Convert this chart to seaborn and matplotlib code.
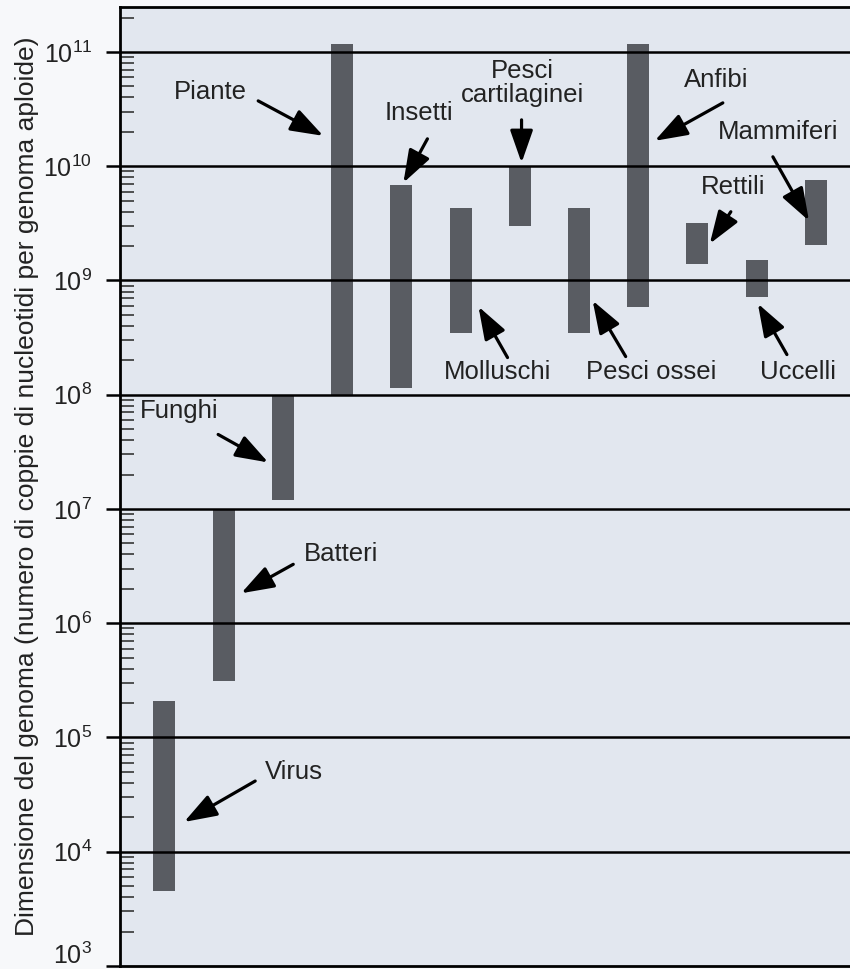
import numpy as np
import pandas as pd
import matplotlib
matplotlib.use("Agg")
import matplotlib.pyplot as plt
import matplotlib.transforms as mtransforms
import seaborn as sns
from matplotlib.ticker import LogLocator, FixedLocator, NullFormatter

# ---- data ----
categories = ["Virus", "Batteri", "Funghi", "Piante", "Insetti", "Molluschi",
              "Pesci cartilaginei", "Pesci ossei", "Anfibi", "Rettili",
              "Uccelli", "Mammiferi"]
genome_min = [4.5e3, 3.1e5, 1.2e7, 1.0e8, 1.15e8, 3.5e8, 3.0e9, 3.5e8,
              5.8e8, 1.4e9, 7.2e8, 2.05e9]
genome_max = [2.1e5, 1.0e7, 1.0e8, 1.17e11, 6.9e9, 4.3e9, 1.0e10, 4.3e9,
              1.17e11, 3.2e9, 1.5e9, 7.5e9]
decade_ticks = [1e3, 1e4, 1e5, 1e6, 1e7, 1e8, 1e9, 1e10, 1e11]
tick_labels = [r"$10^{3}$", r"$10^{4}$", r"$10^{5}$", r"$10^{6}$", r"$10^{7}$",
               r"$10^{8}$", r"$10^{9}$", r"$10^{10}$", r"$10^{11}$"]
ylabel = "Dimensione del genoma (numero di coppie di nucleotidi per genoma aploide)"

df = pd.DataFrame({"gruppo": categories,
                   "span": np.array(genome_max) - np.array(genome_min)})

# ---- style ----
sns.set_style("white")
plt.rcParams["font.family"] = ["Liberation Sans", "DejaVu Sans"]
plt.rcParams["mathtext.fontset"] = "custom"
plt.rcParams["mathtext.rm"] = "Liberation Sans"
plt.rcParams["mathtext.it"] = "Liberation Sans"

W, H = 850, 969
fig = plt.figure(figsize=(W / 100, H / 100), dpi=100, facecolor="#f7f8fa")
ax_left, ax_right, ax_top, ax_bot = 120, 851, 7, 966
ax = fig.add_axes([ax_left / W, 1 - ax_bot / H, (ax_right - ax_left) / W,
                   (ax_bot - ax_top) / H])
ax.set_facecolor("#e2e7ef")

bar_color = "#595c62"
sns.barplot(data=df, x="gruppo", y="span", order=categories, ax=ax,
            color=bar_color, width=0.372, bottom=genome_min,
            linewidth=0, log_scale=(False, True), saturation=1)

ax.set_yscale("log")
y_top = 10 ** (11 + (52 - ax_top) / 114.4)
ax.set_ylim(1e3, y_top)
ax.set_xlim(-0.751, 11.593)

# grid lines at decades
for v in decade_ticks[1:]:
    ax.axhline(v, color="black", lw=1.8, zorder=3)

ax.yaxis.set_major_locator(FixedLocator(decade_ticks))
ax.set_yticklabels(tick_labels)
ax.yaxis.set_minor_locator(LogLocator(base=10, subs=np.arange(2, 10)))
ax.yaxis.set_minor_formatter(NullFormatter())
ax.tick_params(axis="y", which="major", direction="out", length=10, width=1.8,
               pad=10, labelsize=18, left=True, colors="black",
               labelcolor="#222222")
ax.tick_params(axis="y", which="minor", direction="in", length=10, width=1.1,
               left=True)
ax.tick_params(axis="x", which="both", bottom=False, labelbottom=False)
ax.set_xlabel("")
ax.set_ylabel(ylabel, fontsize=19, labelpad=3, color="#222222")

# lift the lowest tick label so it stays inside the figure
low_lbl = ax.get_yticklabels()[0]
low_lbl.set_transform(low_lbl.get_transform() +
                      mtransforms.ScaledTranslation(0, 9 / 72, fig.dpi_scale_trans))

for s in ["left", "top", "bottom"]:
    ax.spines[s].set_visible(True)
    ax.spines[s].set_color("black")
    ax.spines[s].set_linewidth(2.0)
ax.spines["right"].set_visible(False)

# ---- annotations (pixel layout of labels / arrows) ----
def px2data(px, py):
    return (px - 164.4) / 59.14, 10 ** (11 - (py - 52) / 114.4)

labels = [
    ("Piante", (210, 92), (258, 101), (323, 136)),
    ("Insetti", (419, 113), (427, 139), (403, 183)),
    ("Pesci\ncartilaginei", (522, 83), (521, 120), (521, 163)),
    ("Anfibi", (715, 80), (722, 103), (654, 141)),
    ("Mammiferi", (777, 132), (772, 157), (808, 221)),
    ("Rettili", (732, 187), (730, 212), (709, 244)),
    ("Molluschi", (497, 372), (507, 358), (478, 307)),
    ("Pesci ossei", (650, 372), (625, 357), (592, 301)),
    ("Uccelli", (797, 372), (786, 355), (757, 304)),
    ("Funghi", (179, 412), (218, 435), (268, 463)),
    ("Batteri", (341, 555), (293, 565), (241, 594)),
    ("Virus", (294, 773), (255, 782), (184, 823)),
]
for text, tpos, tail, head in labels:
    tx, ty = px2data(*tpos)
    ax.text(tx, ty, text, ha="center", va="center", fontsize=18.5,
            color="#222222", linespacing=1.0, zorder=5)
    ax.annotate("", xy=px2data(*head), xytext=px2data(*tail),
                arrowprops=dict(arrowstyle="-|>,head_length=1.0,head_width=0.35",
                                color="black", lw=2.3, shrinkA=0, shrinkB=0,
                                mutation_scale=20),
                zorder=5)

fig.savefig("out.png", dpi=100, facecolor=fig.get_facecolor())
